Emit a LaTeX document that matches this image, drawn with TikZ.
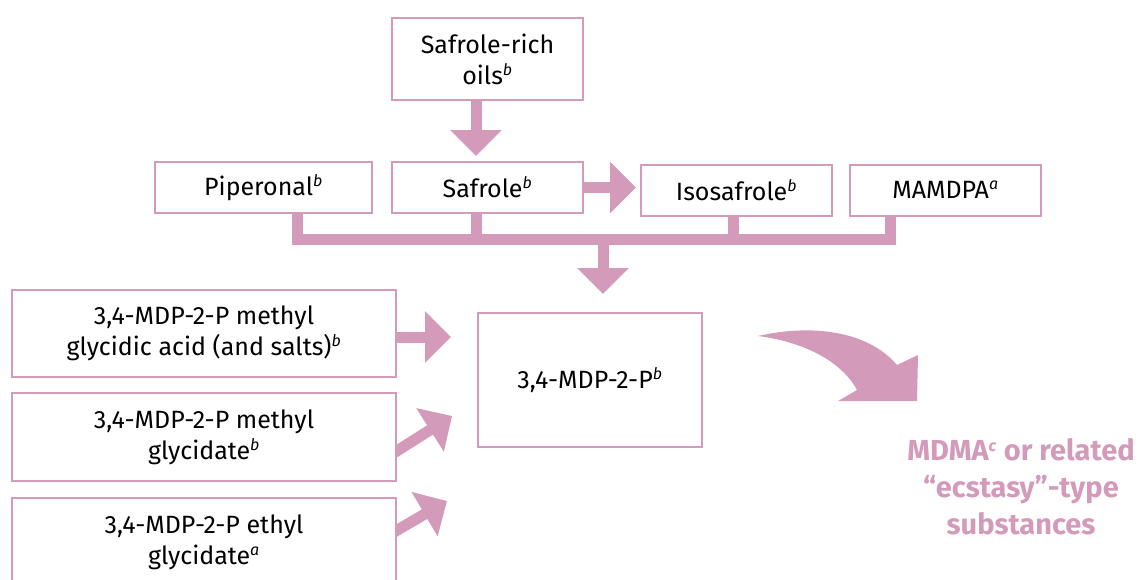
\documentclass[tikz,border=0pt]{standalone}
\usepackage{fontspec}
\setmainfont{Fira Sans}
\usepackage{xcolor}
\usepackage{tikz}
\usetikzlibrary{arrows.meta, backgrounds}
\definecolor{mauve}{RGB}{211,154,186}
\newcommand{\supit}[1]{\textsuperscript{\fontsize{16}{16}\selectfont\textit{#1}}}
\tikzset{
    chem/.style={rectangle, draw=mauve, line width=2pt, fill=white, align=center, inner sep=0pt, font=\fontsize{25}{31}\selectfont},
    fat/.style={draw=mauve, line width=11pt, -{Triangle[width=50pt, length=26pt]}},
    bar/.style={draw=mauve, line width=11pt},
    product/.style={text=mauve, align=center, font=\fontsize{29}{37}\selectfont\bfseries}
}
\begin{document}
\begin{tikzpicture}[x=1pt, y=-1pt]
    \useasboundingbox (0,0) rectangle (1143,579);
    \clip (0,0) rectangle (1143,579);

    % --- PRECURSORS ---
    \node[chem, minimum width=191, minimum height=82] (oils) at (487.5,59) {Safrole-rich\\oils\supit{b}};
    \node[chem, minimum width=217, minimum height=51] (pip) at (263.5,187.5) {Piperonal\supit{b}};
    \node[chem, minimum width=191, minimum height=51] (saf) at (487.5,187.5) {Safrole\supit{b}};
    \node[chem, minimum width=191, minimum height=51] (iso) at (736.5,190) {Isosafrole\supit{b}};
    \node[chem, minimum width=191, minimum height=51] (mam) at (945.5,190) {MAMDPA\supit{a}};

    % --- GLYCIDATES ---
    \node[chem, minimum width=384, minimum height=87] (acid) at (204,333) {3,4-MDP-2-P methyl\\glycidic acid (and salts)\supit{b}};
    \node[chem, minimum width=384, minimum height=88] (methyl) at (204,437) {3,4-MDP-2-P methyl\\glycidate\supit{b}};
    \node[chem, minimum width=384, minimum height=88] (ethyl) at (204,542) {3,4-MDP-2-P ethyl\\glycidate\supit{a}};

    % --- KETONE AND PRODUCT ---
    \node[chem, minimum width=224, minimum height=134] (mdp) at (590,380) {3,4-MDP-2-P\supit{b}};
    \node[product] (mdma) at (1021,487) {MDMA\supit{c} or related\\“ecstasy”-type\\substances};

    \coordinate (bus) at (603,239);
    \coordinate (tipB) at (452,416);
    \coordinate (tipC) at (447,501);

    \begin{scope}[on background layer]
        \draw[fat, shorten >=5pt] (oils.south -| 476,0) -- (saf.north -| 476,0);
        \draw[fat, shorten >=4pt] (saf.east) -- (saf.east -| iso.west);

        % collecting bar
        \draw[bar] (pip.south -| 297,0) |- (bus) -| (mam.south -| 890,0);
        \draw[bar] (saf.south -| 476,0) |- (bus);
        \draw[bar] (iso.south -| 733,0) |- (bus);
        \draw[fat, shorten >=18pt] (bus) -- (bus |- mdp.north);

        % glycidates into ketone
        \draw[fat, shorten >=26pt] ([yshift=-4pt]acid.east) -- ([yshift=-4pt]acid.east -| mdp.west);
        \draw[fat] ([shift={(-8,19)}]methyl.east) -- (tipB);
        \draw[fat] ([shift={(-8,-7)}]ethyl.east) -- (tipC);
    \end{scope}

    % curved arrow to product
    \fill[mauve] (758,336) .. controls (820,322) and (872,335) .. (897,365) -- (918,355) -- (917,401) -- (838,401) -- (857,390) .. controls (842,362) and (805,342) .. cycle;
\end{tikzpicture}
\end{document}
